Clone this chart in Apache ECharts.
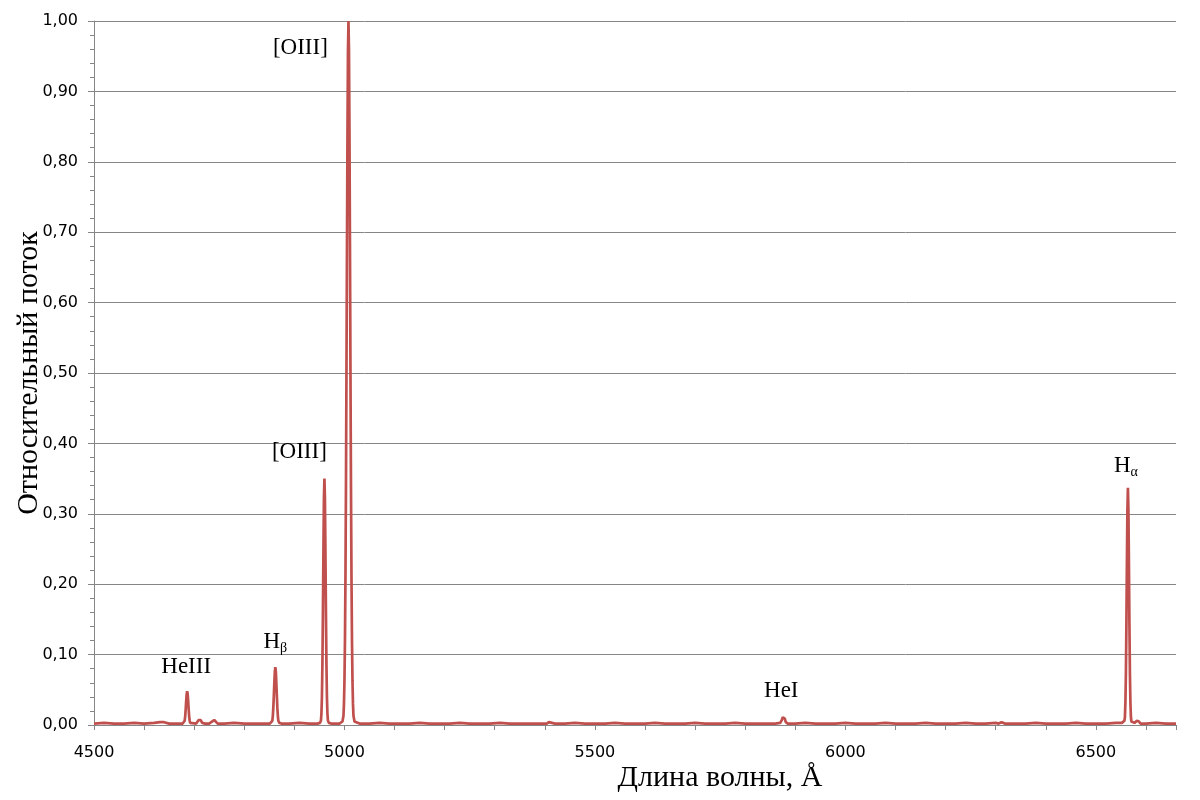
<!DOCTYPE html>
<html>
<head>
<meta charset="utf-8">
<script src="https://cdn.jsdelivr.net/npm/echarts@6/dist/echarts.min.js"></script>
<style>html,body{margin:0;padding:0;background:#fff}#c{width:1200px;height:800px}</style>
</head>
<body>
<div id="c"></div>
<script>
// Wavelength (Å) samples and relative flux
const wavelength = [
4500,4520,4540,4560,4580,4600,4620,4632,4640,4650,4665,4677,4680,4681,4682,4683,4684,4685,4686,4687,4688,4689,4690,4691,4692,4695,
4704,4707,4709,4711,4713,4716,4722,4730,4734,4737,4740,4743,4747,4760,4780,4800,4820,4840,4851,4854,4856,4857,4858,4859,4860,
4861,4862,4863,4864,4865,4866,4867,4868,4870,4874,4890,4910,4930,4946,4951,4953,4954,4955,4956,4957,4958,4959,4960,4961,4962,
4963,4964,4965,4966,4967,4969,4973,4982,4990,4993,4996,4998,4999,5000,5001,5002,5003,5004,5005,5006,5007,5008,5009,5010,5011,
5012,5013,5014,5015,5016,5017,5018,5020,5023,5030,5050,5070,5090,5110,5130,5150,5170,5190,5210,5230,5250,5270,5290,5310,5330,
5350,5370,5390,5404,5408,5411,5414,5420,5440,5460,5480,5500,5520,5540,5560,5580,5600,5620,5640,5660,5680,5700,5720,5740,5760,
5780,5800,5820,5840,5860,5870,5873,5875,5877,5879,5881,5885,5900,5920,5940,5960,5980,6000,6020,6040,6060,6080,6100,6120,6140,
6160,6180,6200,6220,6240,6260,6280,6300,6306,6312,6318,6340,6360,6380,6400,6420,6440,6460,6480,6500,6520,6540,6552,6555,6557,
6558,6559,6560,6561,6562,6563,6564,6565,6566,6567,6568,6569,6570,6571,6573,6577,6580,6582,6584,6586,6589,6600,6620,6640,6660
];
const flux = [
0.002,0.003,0.002,0.002,0.003,0.002,0.003,0.004,0.004,0.002,0.002,0.002,0.003,0.006,0.012,0.022,0.034,0.044,0.048,0.044,0.034,0.022,0.012,0.006,0.003,0.002,
0.002,0.004,0.007,0.008,0.007,0.003,0.002,0.002,0.004,0.006,0.007,0.005,0.002,0.002,0.003,0.002,0.002,0.002,0.002,0.003,0.006,0.013,0.025,0.042,0.060,
0.076,0.082,0.076,0.060,0.042,0.025,0.013,0.006,0.003,0.002,0.002,0.003,0.002,0.002,0.003,0.006,0.016,0.040,0.088,0.160,0.247,0.322,0.350,0.322,0.247,
0.160,0.088,0.040,0.016,0.006,0.003,0.002,0.002,0.002,0.003,0.005,0.013,0.030,0.063,0.120,0.211,0.339,0.501,0.678,0.841,0.958,1.000,0.958,0.841,0.678,
0.501,0.339,0.211,0.120,0.063,0.030,0.013,0.005,0.003,0.002,0.002,0.003,0.002,0.002,0.002,0.003,0.002,0.002,0.002,0.003,0.002,0.002,0.002,0.003,0.002,
0.002,0.002,0.002,0.002,0.004,0.005,0.003,0.002,0.002,0.003,0.002,0.002,0.002,0.003,0.002,0.002,0.002,0.003,0.002,0.002,0.002,0.003,0.002,0.002,0.002,
0.003,0.002,0.002,0.002,0.002,0.003,0.007,0.011,0.012,0.009,0.004,0.002,0.002,0.003,0.002,0.002,0.002,0.003,0.002,0.002,0.002,0.003,0.002,0.002,0.002,
0.003,0.002,0.002,0.002,0.003,0.002,0.002,0.003,0.002,0.004,0.002,0.002,0.002,0.003,0.002,0.002,0.002,0.003,0.002,0.002,0.002,0.003,0.003,0.004,0.006,
0.011,0.032,0.074,0.144,0.231,0.306,0.337,0.306,0.231,0.144,0.074,0.032,0.011,0.005,0.003,0.003,0.004,0.006,0.007,0.005,0.002,0.002,0.003,0.002,0.002
];
// Line annotations: text and position in data coordinates
const labelNames = ['[OIII]', '[OIII]', 'HeIII', 'Hβ', 'HeI', 'Hα'];
const labelX = [4912, 4910, 4684, 4862, 5872, 6560];
const labelY = [0.962, 0.388, 0.082, 0.118, 0.048, 0.368];

const xMin = 4500, xMax = 6660, xStep = 100, xLabelStep = 500;
const yMin = 0, yMax = 1, yStep = 0.1;

const chart = echarts.init(document.getElementById('c'));
const seriesData = wavelength.map((w, i) => [w, flux[i]]);
const serif = '"Liberation Serif", "Times New Roman", serif';
const markData = labelNames.map((n, i) => {
  let f;
  if (n === 'Hβ') f = '{m|H}{s|β}';
  else if (n === 'Hα') f = '{m|H}{s|α}';
  else f = '{m|' + n + '}';
  return { coord: [labelX[i], labelY[i]], label: { formatter: f } };
});

chart.setOption({
  backgroundColor: '#ffffff',
  animation: false,
  grid: { left: 94, right: 24, top: 21, bottom: 75, outerBoundsMode: 'none', containLabel: false },
  xAxis: {
    type: 'value', min: xMin, max: xMax, interval: xStep,
    name: 'Длина волны, Å', nameLocation: 'middle', nameGap: 38, nameMoveOverlap: false,
    nameTextStyle: { fontFamily: serif, fontSize: 30, color: '#000', padding: [0, 0, 0, 170] },
    axisLine: { show: true, onZero: false, lineStyle: { color: '#868686', width: 1 } },
    axisTick: { show: true, length: 5, lineStyle: { color: '#868686' } },
    axisLabel: {
      margin: 20, color: '#000', fontFamily: '"DejaVu Sans", sans-serif', fontSize: 16,
      formatter: v => (v % xLabelStep === 0 ? String(v) : '')
    },
    splitLine: { show: false }
  },
  yAxis: {
    type: 'value', min: yMin, max: yMax, interval: yStep,
    name: 'Относительный поток', nameLocation: 'middle', nameGap: 50, nameMoveOverlap: false,
    nameTextStyle: { fontFamily: serif, fontSize: 30, color: '#000' },
    axisLine: { show: true, lineStyle: { color: '#868686', width: 1 } },
    axisTick: { show: true, length: 6, lineStyle: { color: '#868686' } },
    minorTick: { show: true, splitNumber: 5, length: 4, lineStyle: { color: '#868686' } },
    axisLabel: {
      margin: 16, color: '#000', fontFamily: '"DejaVu Sans", sans-serif', fontSize: 16,
      formatter: v => v.toFixed(2).replace('.', ',')
    },
    splitLine: { show: true, lineStyle: { color: '#868686', width: 1 } }
  },
  series: [{
    type: 'line',
    data: seriesData,
    showSymbol: false,
    smooth: false,
    lineStyle: { color: '#c0504d', width: 2.7 },
    itemStyle: { color: '#c0504d' },
    markPoint: {
      symbol: 'circle', symbolSize: 0, silent: true,
      label: {
        show: true, position: 'inside', color: '#000',
        rich: {
          m: { fontFamily: serif, fontSize: 23, color: '#000', lineHeight: 26 },
          s: { fontFamily: serif, fontSize: 14, color: '#000', lineHeight: 26, padding: [12, 0, 0, 0] }
        }
      },
      data: markData
    }
  }]
});
</script>
</body>
</html>
